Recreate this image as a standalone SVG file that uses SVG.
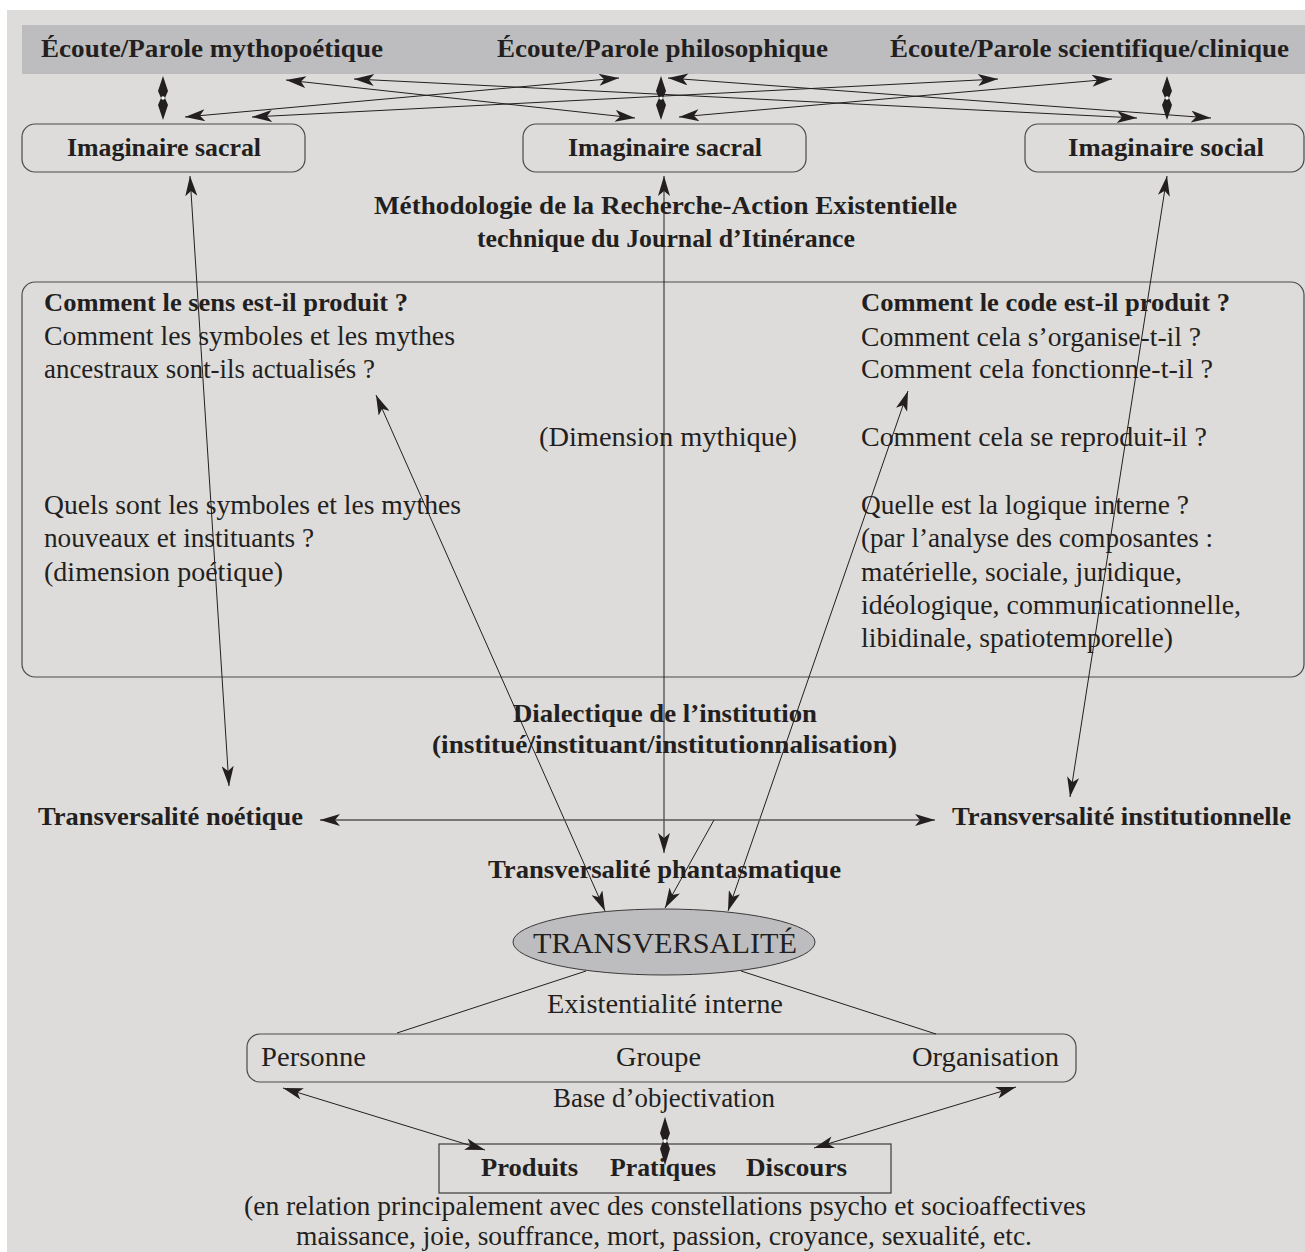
<svg xmlns="http://www.w3.org/2000/svg" width="1305" height="1252" viewBox="0 0 1305 1252">
<style>
text{font-family:"Liberation Serif","Times New Roman",serif;fill:#231f20;}
.b{font-weight:bold;font-size:26px;}
.r{font-size:27px;}
.hd{font-weight:bold;font-size:26px;}
.cap{font-size:29px;}
.box{fill:none;stroke:#4a4a4a;stroke-width:1.2;}
.ln{stroke:#231f20;stroke-width:1;fill:none;}
.arr{stroke:#231f20;stroke-width:1;fill:none;marker-end:url(#ah);}
.dbl{stroke:#231f20;stroke-width:1;fill:none;marker-start:url(#ah);marker-end:url(#ah);}
</style>
<defs>
<marker id="ah" viewBox="0 0 20 12" refX="20" refY="6" markerWidth="21" markerHeight="12" markerUnits="userSpaceOnUse" orient="auto-start-reverse">
<path d="M0,0 L20,6 L0,12 L5,6 Z" fill="#231f20"/>
</marker>
<g id="dia">
<path d="M0,-22 L5,-7 L2,0 L5,7 L0,22 L-5,7 L-2,0 L-5,-7 Z" fill="#231f20"/>
<circle cx="0" cy="0" r="1.8" fill="#ffffff"/>
</g>
</defs>
<rect x="7" y="10" width="1298" height="1242" fill="#dddcda"/>
<rect x="22" y="25" width="1283" height="49" fill="#bdbdbf"/>

<g id="header">
<text class="hd" x="41" y="57" textLength="342" lengthAdjust="spacingAndGlyphs">Écoute/Parole mythopoétique</text>
<text class="hd" x="497" y="57" textLength="331" lengthAdjust="spacingAndGlyphs">Écoute/Parole philosophique</text>
<text class="hd" x="890" y="57" textLength="399" lengthAdjust="spacingAndGlyphs">Écoute/Parole scientifique/clinique</text>
</g>

<g id="imaginaire-sacral-1">
<rect class="box" x="22" y="124" width="283" height="48" rx="13"/>
<text class="b" x="67" y="156" textLength="194" lengthAdjust="spacingAndGlyphs">Imaginaire sacral</text>
</g>
<g id="imaginaire-sacral-2">
<rect class="box" x="523" y="124" width="283" height="48" rx="13"/>
<text class="b" x="568" y="156" textLength="194" lengthAdjust="spacingAndGlyphs">Imaginaire sacral</text>
</g>
<g id="imaginaire-social">
<rect class="box" x="1025" y="124" width="279" height="48" rx="13"/>
<text class="b" x="1068" y="156" textLength="196" lengthAdjust="spacingAndGlyphs">Imaginaire social</text>
</g>

<g id="methodologie">
<text class="b" x="374" y="214" textLength="583" lengthAdjust="spacingAndGlyphs">Méthodologie de la Recherche-Action Existentielle</text>
<text class="b" x="477" y="247" textLength="378" lengthAdjust="spacingAndGlyphs">technique du Journal d’Itinérance</text>
</g>

<g id="questions">
<rect class="box" x="22" y="282" width="1282" height="395" rx="13"/>
<text class="b" x="44" y="311" textLength="364" lengthAdjust="spacingAndGlyphs">Comment le sens est-il produit ?</text>
<text class="r" x="44" y="345" textLength="411" lengthAdjust="spacingAndGlyphs">Comment les symboles et les mythes</text>
<text class="r" x="44" y="378" textLength="331" lengthAdjust="spacingAndGlyphs">ancestraux sont-ils actualisés ?</text>
<text class="r" x="44" y="514" textLength="417" lengthAdjust="spacingAndGlyphs">Quels sont les symboles et les mythes</text>
<text class="r" x="44" y="547" textLength="270" lengthAdjust="spacingAndGlyphs">nouveaux et instituants ?</text>
<text class="r" x="44" y="581" textLength="239" lengthAdjust="spacingAndGlyphs">(dimension poétique)</text>
<text class="r" x="539" y="446" textLength="258" lengthAdjust="spacingAndGlyphs">(Dimension mythique)</text>
<text class="b" x="861" y="311" textLength="369" lengthAdjust="spacingAndGlyphs">Comment le code est-il produit ?</text>
<text class="r" x="861" y="346" textLength="340" lengthAdjust="spacingAndGlyphs">Comment cela s’organise-t-il ?</text>
<text class="r" x="861" y="378" textLength="352" lengthAdjust="spacingAndGlyphs">Comment cela fonctionne-t-il ?</text>
<text class="r" x="861" y="446" textLength="346" lengthAdjust="spacingAndGlyphs">Comment cela se reproduit-il ?</text>
<text class="r" x="861" y="514" textLength="328" lengthAdjust="spacingAndGlyphs">Quelle est la logique interne ?</text>
<text class="r" x="861" y="547" textLength="352" lengthAdjust="spacingAndGlyphs">(par l’analyse des composantes :</text>
<text class="r" x="861" y="581" textLength="321" lengthAdjust="spacingAndGlyphs">matérielle, sociale, juridique,</text>
<text class="r" x="861" y="614" textLength="380" lengthAdjust="spacingAndGlyphs">idéologique, communicationnelle,</text>
<text class="r" x="861" y="647" textLength="312" lengthAdjust="spacingAndGlyphs">libidinale, spatiotemporelle)</text>
</g>

<g id="dialectique">
<text class="b" x="513" y="722" textLength="304" lengthAdjust="spacingAndGlyphs">Dialectique de l’institution</text>
<text class="b" x="432" y="753" textLength="465" lengthAdjust="spacingAndGlyphs">(institué/instituant/institutionnalisation)</text>
</g>

<g id="transversalite-noetique">
<text class="b" x="38" y="825" textLength="265" lengthAdjust="spacingAndGlyphs">Transversalité noétique</text>
</g>
<g id="transversalite-institutionnelle">
<text class="b" x="952" y="825" textLength="339" lengthAdjust="spacingAndGlyphs">Transversalité institutionnelle</text>
</g>
<g id="transversalite-phantasmatique">
<text class="b" x="488" y="878" textLength="353" lengthAdjust="spacingAndGlyphs">Transversalité phantasmatique</text>
</g>

<g id="transversalite">
<ellipse cx="664" cy="942" rx="151" ry="33" fill="#bdbdbf" stroke="#3a3a3a" stroke-width="1"/>
<text class="cap" x="533" y="953" textLength="264" lengthAdjust="spacingAndGlyphs">TRANSVERSALITÉ</text>
</g>

<g id="existentialite">
<text class="r" x="547" y="1013" textLength="236" lengthAdjust="spacingAndGlyphs">Existentialité interne</text>
</g>

<g id="personne-groupe-organisation">
<rect class="box" x="247" y="1034" width="829" height="48" rx="13"/>
<text class="r" x="261" y="1066" textLength="105" lengthAdjust="spacingAndGlyphs">Personne</text>
<text class="r" x="616" y="1066" textLength="85" lengthAdjust="spacingAndGlyphs">Groupe</text>
<text class="r" x="912" y="1066" textLength="147" lengthAdjust="spacingAndGlyphs">Organisation</text>
</g>

<g id="base">
<text class="r" x="553" y="1107" textLength="222" lengthAdjust="spacingAndGlyphs">Base d’objectivation</text>
</g>

<g id="produits">
<rect x="439" y="1144" width="452" height="49" fill="none" stroke="#3a3a3a" stroke-width="1.2"/>
<text class="b" x="481" y="1176" textLength="97" lengthAdjust="spacingAndGlyphs">Produits</text>
<text class="b" x="610" y="1176" textLength="106" lengthAdjust="spacingAndGlyphs">Pratiques</text>
<text class="b" x="746" y="1176" textLength="101" lengthAdjust="spacingAndGlyphs">Discours</text>
</g>

<g id="note">
<text class="r" x="244" y="1215" textLength="842" lengthAdjust="spacingAndGlyphs">(en relation principalement avec des constellations psycho et socioaffectives</text>
<text class="r" x="296" y="1245" textLength="736" lengthAdjust="spacingAndGlyphs">maissance, joie, souffrance, mort, passion, croyance, sexualité, etc.</text>
</g>

<g id="connectors">
<use href="#dia" x="163" y="98"/>
<use href="#dia" x="661" y="98"/>
<use href="#dia" x="1167" y="98"/>
<line class="dbl" x1="286" y1="80" x2="635" y2="118"/>
<line class="dbl" x1="185" y1="117" x2="619" y2="78"/>
<line class="dbl" x1="354" y1="79" x2="1137" y2="118"/>
<line class="dbl" x1="252" y1="117" x2="998" y2="79"/>
<line class="dbl" x1="668" y1="78" x2="1211" y2="118"/>
<line class="dbl" x1="679" y1="117" x2="1112" y2="79"/>

<line class="dbl" x1="190" y1="176" x2="229" y2="786"/>
<line class="dbl" x1="664" y1="176" x2="664" y2="853"/>
<line class="dbl" x1="1167" y1="176" x2="1070" y2="797"/>
<line class="dbl" x1="376" y1="395" x2="605" y2="911"/>
<line class="dbl" x1="908" y1="391" x2="728" y2="911"/>
<line class="dbl" x1="320" y1="820" x2="935" y2="820" style="stroke:#555;stroke-width:1.5"/>
<line class="arr" x1="714" y1="820" x2="665" y2="908"/>

<line class="ln" x1="586" y1="971" x2="397" y2="1033"/>
<line class="ln" x1="741" y1="971" x2="936" y2="1034"/>
<line class="dbl" x1="283" y1="1088" x2="485" y2="1150"/>
<line class="dbl" x1="1016" y1="1087" x2="814" y2="1148"/>
<g transform="translate(665 1141) scale(1 1.1)"><use href="#dia"/></g>
</g>
</svg>
